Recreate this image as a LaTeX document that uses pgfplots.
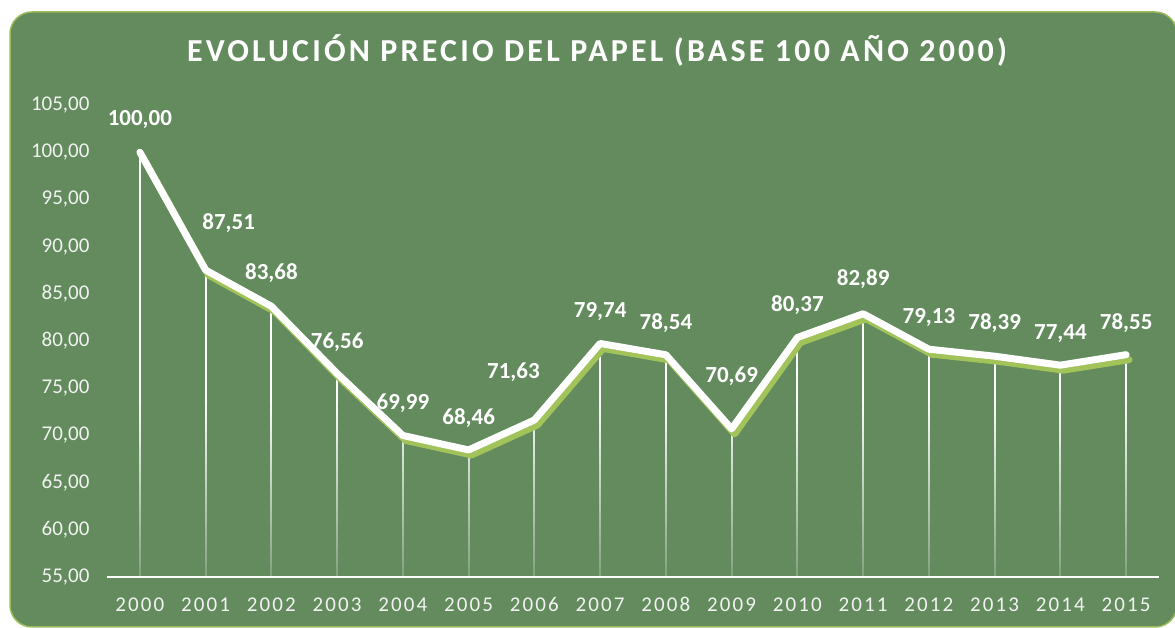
\documentclass[border=0pt]{standalone}
\usepackage{fontspec}
\setmainfont{Carlito}
\newfontfamily\titlefont[LetterSpace=10]{Carlito}
\newfontfamily\xfont[LetterSpace=10]{Carlito}
\usepackage{pgfplots}
\pgfplotsset{compat=1.18}
\usepackage{pgfplotstable}
\usetikzlibrary{fadings}
\definecolor{bgc}{HTML}{638B5E}
\definecolor{brd}{HTML}{9BBB59}
\definecolor{shd}{HTML}{A2C25A}
\definecolor{tkc}{HTML}{F2F2F2}
\pgfplotstableread{
x y dx dy
2000 100.00 0 33
2001 87.51 23 47
2002 83.68 0 33
2003 76.56 0 31
2004 69.99 0 32
2005 68.46 0 32
2006 71.63 -21 48
2007 79.74 0 32
2008 78.54 0 32
2009 70.69 0 53
2010 80.37 0 32
2011 82.89 0 35
2012 79.13 0 32
2013 78.39 0 33
2014 77.44 0 32
2015 78.55 0 32
}\datatab
\begin{document}
\begin{tikzpicture}
\useasboundingbox (0,0) rectangle (1175pt,628pt);
\clip (0,0) rectangle (1175pt,628pt);
\fill[white] (0,0) rectangle (1175pt,628pt);
\draw[brd, fill=bgc, line width=1.5pt, rounded corners=22pt] (10pt,1pt) rectangle (1177pt,616pt);
\node[font=\titlefont\fontsize{32}{36}\selectfont\bfseries, text=white] at (597pt,578pt) {EVOLUCIÓN PRECIO DEL PAPEL (BASE 100 AÑO 2000)};
\begin{axis}[
  at={(107pt,51pt)}, anchor=south west,
  scale only axis, width=1052pt, height=472pt,
  xmin=1999.5, xmax=2015.5, ymin=55, ymax=105,
  axis lines*=left,
  x axis line style={white, line width=2pt, -},
  y axis line style={draw=none},
  axis on top,
  xtick={2000,...,2015},
  xticklabels={2000,2001,2002,2003,2004,2005,2006,2007,2008,2009,2010,2011,2012,2013,2014,2015},
  ytick={55,60,...,105},
  major tick length=0pt,
  tick style={draw=none},
  /pgf/number format/assume math mode=true,
  yticklabel={\pgfmathprintnumber[fixed, zerofill, precision=2, use comma]{\tick}},
  yticklabel style={font=\fontsize{21}{25}\selectfont, text=tkc, xshift=-14pt},
  xticklabel style={font=\xfont\fontsize{21}{25}\selectfont, text=tkc, yshift=-17pt},
  clip=false,
]
% drop lines
\addplot[draw=none, mark=none,
  error bars/.cd, y dir=minus, y explicit, error mark=none,
  error bar style={white, line width=1.8pt}]
  table[x=x, y=y, y error minus expr={\thisrow{y}-55}] {\datatab};
% fade overlay near the base
\fill[bgc, path fading=north, fill opacity=0.8] (axis cs:1999.5,55) rectangle (axis cs:2015.5,74);
% shadow line
\addplot[shd, line width=7pt, line join=round, line cap=round, mark=none, xshift=3pt, yshift=-5pt]
  table[x=x, y=y] {\datatab};
% main line with labels
\addplot[white, line width=7pt, line join=round, line cap=round, mark=none,
  point meta=y,
  visualization depends on={\thisrow{dx} \as \dx},
  visualization depends on={\thisrow{dy} \as \dy},
  nodes near coords={\pgfmathprintnumber[fixed, zerofill, precision=2, use comma, assume math mode=true]{\pgfplotspointmeta}},
  nodes near coords style={anchor=center, xshift=\dx pt, yshift=\dy pt, text=white, font=\fontsize{23}{27}\selectfont\bfseries, inner sep=0pt}]
  table[x=x, y=y] {\datatab};
\end{axis}
\end{tikzpicture}
\end{document}
